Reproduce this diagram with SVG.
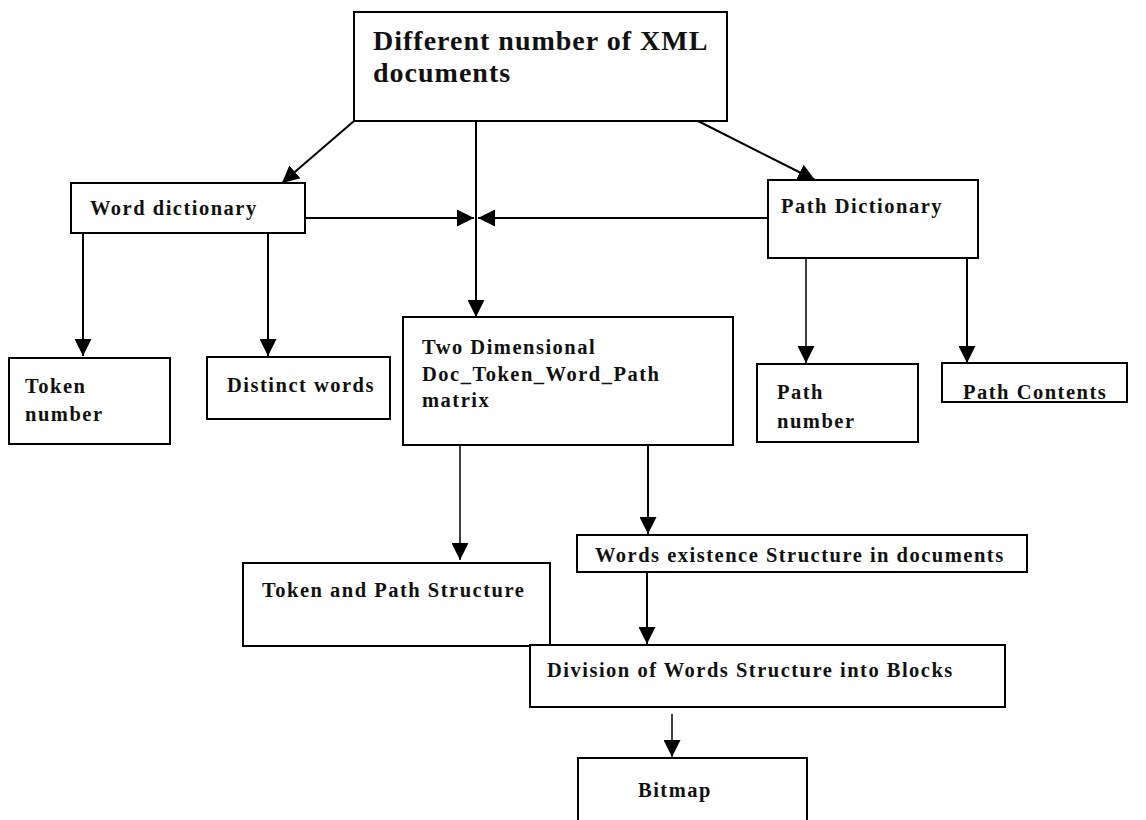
<svg xmlns="http://www.w3.org/2000/svg" width="1146" height="820" viewBox="0 0 1146 820">
  <style>
    .box { fill: #ffffff; stroke: #000000; stroke-width: 2; }
    .lbl { font-family: "Liberation Serif", "Times New Roman", serif; font-weight: bold; font-size: 20.5px; letter-spacing: 1.5px; fill: #111111; }
    .big { font-family: "Liberation Serif", "Times New Roman", serif; font-weight: bold; font-size: 28px; letter-spacing: 1px; fill: #111111; }
    .edge { fill: none; stroke: #000000; stroke-width: 2; }
    .thin { stroke-width: 1.5; }
  </style>
  <defs>
    <marker id="arrow" viewBox="0 0 16 16" refX="16" refY="8" markerWidth="17" markerHeight="17" markerUnits="userSpaceOnUse" orient="auto">
      <path d="M0,0 L16,8 L0,16 Z" fill="#000000"/>
    </marker>
  </defs>

  <rect width="1146" height="820" fill="#ffffff"/>

  <!-- connectors -->
  <g id="connectors">
    <line class="edge" x1="354" y1="121" x2="282" y2="183" marker-end="url(#arrow)"/>
    <line class="edge" x1="476" y1="121" x2="476" y2="317" marker-end="url(#arrow)"/>
    <line class="edge" x1="698" y1="121" x2="815" y2="180" marker-end="url(#arrow)"/>
    <line class="edge" x1="305" y1="218" x2="474" y2="218" marker-end="url(#arrow)"/>
    <line class="edge" x1="768" y1="218" x2="478" y2="218" marker-end="url(#arrow)"/>
    <line class="edge" x1="83" y1="233" x2="83" y2="356" marker-end="url(#arrow)"/>
    <line class="edge" x1="268" y1="233" x2="268" y2="356" marker-end="url(#arrow)"/>
    <line class="edge thin" x1="806" y1="240" x2="806" y2="363" marker-end="url(#arrow)"/>
    <line class="edge" x1="967" y1="238" x2="967" y2="363" marker-end="url(#arrow)"/>
    <line class="edge thin" x1="460" y1="445" x2="460" y2="560" marker-end="url(#arrow)"/>
    <line class="edge" x1="648" y1="445" x2="648" y2="534" marker-end="url(#arrow)"/>
    <line class="edge" x1="647" y1="572" x2="647" y2="644" marker-end="url(#arrow)"/>
    <line class="edge thin" x1="672" y1="714" x2="672" y2="757" marker-end="url(#arrow)"/>
  </g>

  <g id="xml-docs">
    <rect class="box" x="354" y="12" width="373" height="109"/>
    <text class="big" x="373" y="50">Different number of XML</text>
    <text class="big" x="373" y="82">documents</text>
  </g>

  <g id="word-dictionary">
    <rect class="box" x="71" y="183" width="234" height="50"/>
    <text class="lbl" x="90" y="215">Word dictionary</text>
  </g>

  <g id="path-dictionary">
    <rect class="box" x="768" y="180" width="210" height="78"/>
    <text class="lbl" x="781" y="213">Path  Dictionary</text>
  </g>

  <g id="token-number">
    <rect class="box" x="9" y="358" width="161" height="86"/>
    <text class="lbl" x="25" y="393">Token</text>
    <text class="lbl" x="25" y="421">number</text>
  </g>

  <g id="distinct-words">
    <rect class="box" x="207" y="357" width="183" height="62"/>
    <text class="lbl" x="227" y="392">Distinct words</text>
  </g>

  <g id="matrix">
    <rect class="box" x="403" y="317" width="330" height="128"/>
    <text class="lbl" x="422" y="354">Two Dimensional</text>
    <text class="lbl" x="422" y="381">Doc_Token_Word_Path</text>
    <text class="lbl" x="422" y="407">matrix</text>
  </g>

  <g id="path-number">
    <rect class="box" x="757" y="364" width="161" height="78"/>
    <text class="lbl" x="777" y="399">Path</text>
    <text class="lbl" x="777" y="428">number</text>
  </g>

  <g id="path-contents">
    <rect class="box" x="942" y="363" width="185" height="39"/>
    <text class="lbl" x="963" y="399">Path Contents</text>
  </g>

  <g id="token-path-structure">
    <rect class="box" x="243" y="563" width="307" height="83"/>
    <text class="lbl" x="262" y="597">Token and Path Structure</text>
  </g>

  <g id="words-existence">
    <rect class="box" x="577" y="535" width="450" height="37"/>
    <text class="lbl" x="595" y="562">Words existence Structure in documents</text>
  </g>

  <g id="division">
    <rect class="box" x="530" y="645" width="475" height="62"/>
    <text class="lbl" x="547" y="677">Division of Words Structure into Blocks</text>
  </g>

  <g id="bitmap">
    <rect class="box" x="578" y="758" width="229" height="70"/>
    <text class="lbl" x="638" y="797">Bitmap</text>
  </g>
</svg>
